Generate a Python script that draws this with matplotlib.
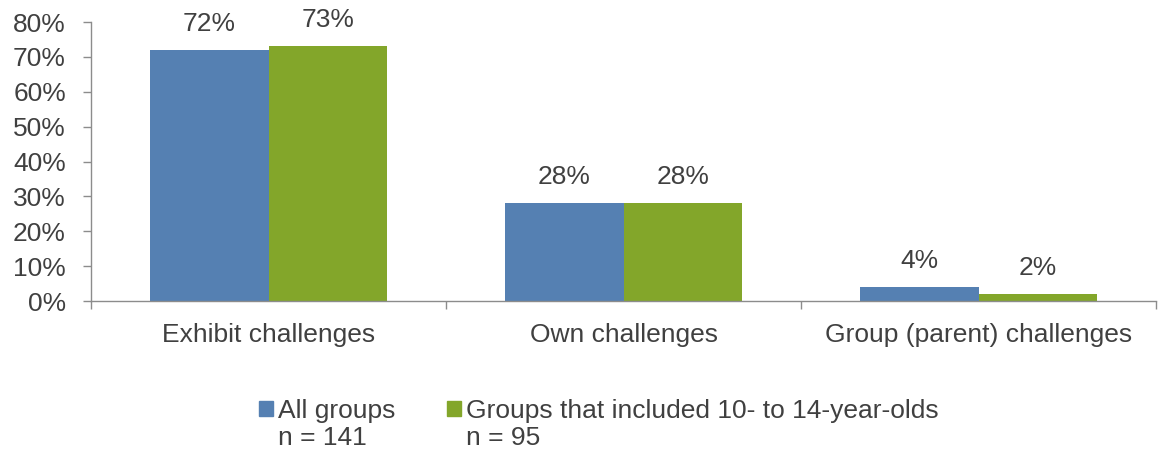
import numpy as np
import matplotlib.pyplot as plt
from matplotlib.patches import Rectangle

plt.rcParams['font.family'] = ['Liberation Sans', 'DejaVu Sans']

categories = ["Exhibit challenges", "Own challenges", "Group (parent) challenges"]
all_groups = [72, 28, 4]
teen_groups = [73, 28, 2]
series_labels = ["All groups\nn = 141", "Groups that included 10- to 14-year-olds\nn = 95"]

blue = '#5580B2'
green = '#83A62A'
text_col = '#404040'
axis_col = '#8C8C8C'
fs = 19

fig = plt.figure(figsize=(11.59, 4.49), dpi=100)
ax = fig.add_axes([0.0785, 0.3296, 0.919, 0.6214])

x = np.arange(len(categories))
w = 1/3
b1 = ax.bar(x - w/2, all_groups, w, color=blue)
b2 = ax.bar(x + w/2, teen_groups, w, color=green)

for bars, vals in ((b1, all_groups), (b2, teen_groups)):
    for bar, v in zip(bars, vals):
        ax.annotate(f"{v}%", (bar.get_x() + bar.get_width()/2, v),
                    xytext=(0, 19), textcoords='offset points',
                    ha='center', va='center', fontsize=fs, color=text_col)

ax.set_xlim(-0.5, 2.5)
ax.set_ylim(0, 80)
ax.set_yticks(np.arange(0, 81, 10))
ax.set_yticklabels([f"{t}%" for t in range(0, 81, 10)])
ax.set_xticks(x)
ax.set_xticklabels(categories)
ax.tick_params(axis='y', colors=axis_col, labelcolor=text_col, labelsize=fs,
               length=6, width=1, pad=12)
ax.tick_params(axis='x', length=0, labelcolor=text_col, labelsize=fs, pad=16)
# separators between category groups, hanging below the axis
ax.set_xticks(np.arange(-0.5, 2.6, 1), minor=True)
ax.tick_params(axis='x', which='minor', length=6, width=1, color=axis_col,
               direction='out')

for s in ('top', 'right'):
    ax.spines[s].set_visible(False)
for s in ('left', 'bottom'):
    ax.spines[s].set_color(axis_col)
    ax.spines[s].set_linewidth(1)

# legend: square beside the first line of each two-line label
W, H = fig.get_size_inches() * fig.dpi
for px, col, lab in ((259, blue, series_labels[0]), (447, green, series_labels[1])):
    fig.patches.append(Rectangle((px / W, 1 - 416 / H), 14 / W, 15 / H,
                                 color=col, transform=fig.transFigure))
    fig.text((px + 19) / W, 1 - 399 / H, lab, ha='left', va='top',
             fontsize=fs, color=text_col, linespacing=1.16)

fig.savefig('out.png', dpi=100)
